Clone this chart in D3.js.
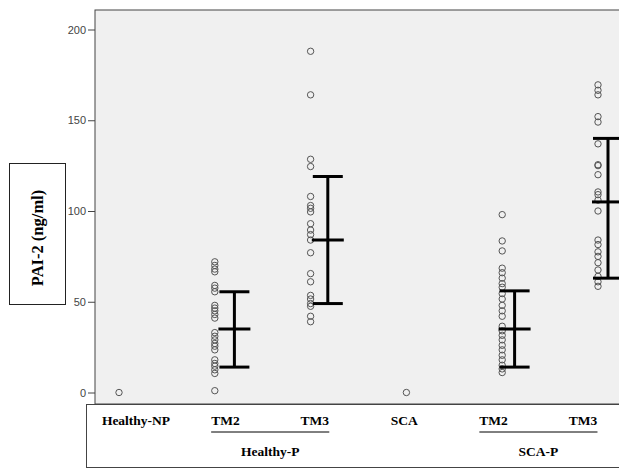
<!DOCTYPE html>
<html>
<head>
<meta charset="utf-8">
<script src="https://cdn.jsdelivr.net/npm/d3@7"></script>
<style>
  body { margin: 0; background: #fff; }
  svg { display: block; }
</style>
</head>
<body>
<div id="chart"></div>
<script>
// group keys and the labels under them
var categories = ["hnp", "htm2", "htm3", "sca", "stm2", "stm3"];
var tickLabels = ["Healthy-NP", "TM2", "TM3", "SCA", "TM2", "TM3"];
var groupLabels = [{name: "Healthy-P", from: 1, to: 2}, {name: "SCA-P", from: 4, to: 5}];

// PAI-2 values (ng/ml)
var healthyNP = [0];
var healthyTM2 = [72, 70, 68, 66.5, 59, 57.5, 55.5, 48, 46.5, 45, 43, 41, 33, 31, 29, 27, 25.5, 23.5, 18, 16, 14.5, 12.5, 10.5, 1];
var healthyTM3 = [188, 164, 128.5, 124.5, 108, 103, 101.5, 99.5, 93, 89.5, 87, 84, 77, 65.5, 61, 53.5, 51.5, 49, 47.5, 42, 39];
var scaNP = [0];
var scaTM2 = [98, 83.5, 78, 68.5, 66, 63, 60, 58, 54.5, 51.5, 48, 45, 42, 36.5, 34, 31.5, 29, 26, 23.5, 20.5, 18, 15, 13, 11];
var scaTM3 = [169.5, 166.5, 164, 152, 149, 137, 125.5, 125, 120, 110.5, 109, 106, 100, 84, 81.5, 77.5, 75, 71.5, 67.5, 64, 61, 58.5];

// error bars
var barCats = ["htm2", "htm3", "stm2", "stm3"];
var barMean = [35, 84, 35, 105];
var barLow = [14, 49, 14, 63];
var barHigh = [55.5, 119, 56, 140];

var yTicks = [0, 50, 100, 150, 200];

var seriesValues = [healthyNP, healthyTM2, healthyTM3, scaNP, scaTM2, scaTM3];

var width = 619, height = 469;
var plot = {left: 95, top: 10, right: 619, bottom: 404};

var svg = d3.select("#chart").append("svg")
    .attr("width", width)
    .attr("height", height);

var x = d3.scalePoint().domain(categories).range([119, 598]);
var xBar = d3.scalePoint().domain(categories).range([141, 608]);
var xLab = d3.scalePoint().domain(categories).range([136, 583]);
var y = d3.scaleLinear().domain([0, 200]).range([392.5, 29.5]);

// plot background
svg.append("rect")
    .attr("x", plot.left)
    .attr("y", plot.top)
    .attr("width", plot.right - plot.left + 2)
    .attr("height", plot.bottom - plot.top)
    .style("fill", "#f0f0f0")
    .style("stroke", "#444")
    .style("stroke-width", 1);

// y axis
var yAxis = svg.append("g")
    .attr("transform", "translate(" + plot.left + ",0)")
    .call(d3.axisLeft(y).tickValues(yTicks).tickSize(7).tickPadding(2));
yAxis.select(".domain").remove();
yAxis.selectAll("line").style("stroke", "#444");
yAxis.selectAll("text")
    .style("font-family", "Liberation Sans, Arial, sans-serif")
    .style("font-size", "11px")
    .style("fill", "#444");

// y label box
svg.append("rect")
    .attr("x", 9.5).attr("y", 163.5)
    .attr("width", 56).attr("height", 141)
    .style("fill", "#fff")
    .style("stroke", "#222");
svg.append("text")
    .attr("transform", "translate(42.5,238) rotate(-90)")
    .attr("text-anchor", "middle")
    .style("font-family", "Liberation Serif, Times New Roman, serif")
    .style("font-weight", "bold")
    .style("font-size", "16.5px")
    .text("PAI-2 (ng/ml)");

// points
var points = [];
seriesValues.forEach(function(vals, i) {
    vals.forEach(function(v) { points.push({cat: categories[i], value: v}); });
});
svg.append("g").selectAll("circle")
    .data(points)
    .enter().append("circle")
    .attr("cx", function(d) { return x(d.cat); })
    .attr("cy", function(d) { return y(d.value); })
    .attr("r", 3.2)
    .style("fill", "none")
    .style("stroke", "#555")
    .style("stroke-width", 1);

// error bars
var bars = barCats.map(function(c, i) {
    return {cat: c, mean: barMean[i], low: barLow[i], high: barHigh[i]};
});
var eb = svg.append("g").selectAll("g")
    .data(bars)
    .enter().append("g")
    .style("stroke", "#000")
    .style("stroke-width", 3);
eb.append("line")
    .attr("x1", function(d) { return xBar(d.cat); })
    .attr("x2", function(d) { return xBar(d.cat); })
    .attr("y1", function(d) { return y(d.low); })
    .attr("y2", function(d) { return y(d.high); });
eb.append("line")
    .attr("x1", function(d) { return xBar(d.cat) - 15; })
    .attr("x2", function(d) { return xBar(d.cat) + 15; })
    .attr("y1", function(d) { return y(d.high); })
    .attr("y2", function(d) { return y(d.high); });
eb.append("line")
    .attr("x1", function(d) { return xBar(d.cat) - 15; })
    .attr("x2", function(d) { return xBar(d.cat) + 15; })
    .attr("y1", function(d) { return y(d.low); })
    .attr("y2", function(d) { return y(d.low); });
eb.append("line")
    .attr("x1", function(d) { return xBar(d.cat) - 16; })
    .attr("x2", function(d) { return xBar(d.cat) + 16; })
    .attr("y1", function(d) { return y(d.mean); })
    .attr("y2", function(d) { return y(d.mean); });

// category label box
svg.append("rect")
    .attr("x", 86.5).attr("y", plot.bottom + 0.5)
    .attr("width", 540).attr("height", 63)
    .style("fill", "#fff")
    .style("stroke", "#444");

var labelFont = "Liberation Serif, Times New Roman, serif";
var labs = svg.append("g").selectAll("text")
    .data(categories)
    .enter().append("text")
    .attr("x", function(d) { return xLab(d); })
    .attr("y", 425)
    .attr("text-anchor", "middle")
    .style("font-family", labelFont)
    .style("font-weight", "bold")
    .style("font-size", "13.5px")
    .text(function(d, i) { return tickLabels[i]; });

var labNodes = labs.nodes();
groupLabels.forEach(function(g) {
    var a = labNodes[g.from].getBBox();
    var b = labNodes[g.to].getBBox();
    var x1 = a.x, x2 = b.x + b.width;
    svg.append("line")
        .attr("x1", x1).attr("x2", x2)
        .attr("y1", 432).attr("y2", 432)
        .style("stroke", "#000")
        .style("stroke-width", 1);
    svg.append("text")
        .attr("x", (x1 + x2) / 2)
        .attr("y", 456)
        .attr("text-anchor", "middle")
        .style("font-family", labelFont)
        .style("font-weight", "bold")
        .style("font-size", "13.5px")
        .text(g.name);
});
</script>
</body>
</html>
